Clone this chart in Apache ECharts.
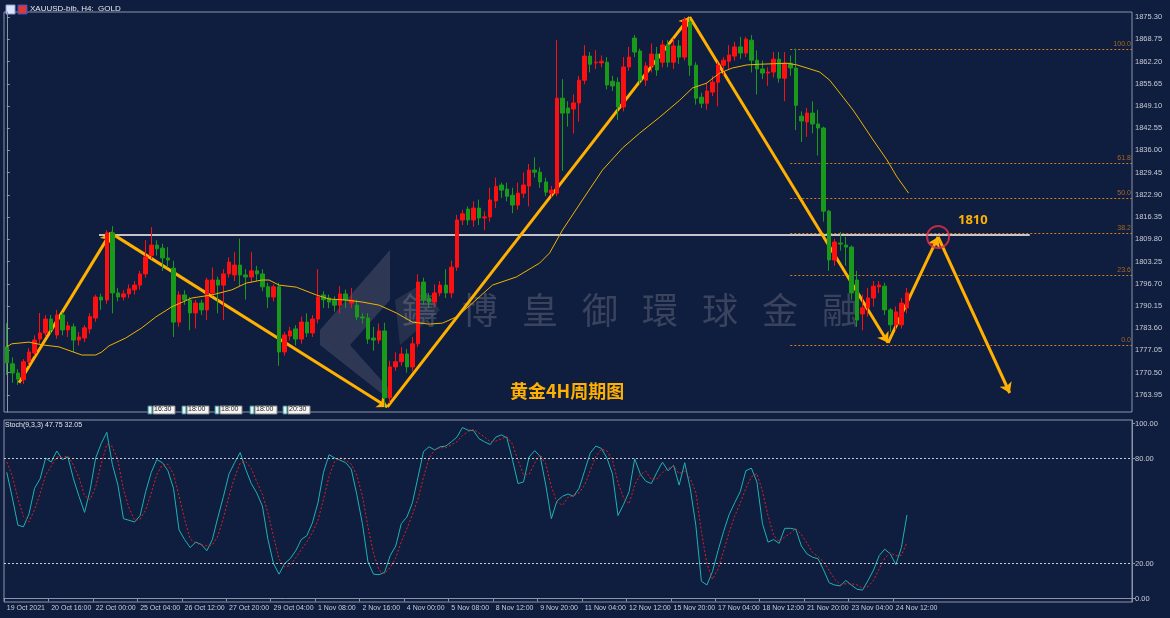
<!DOCTYPE html>
<html>
<head>
<meta charset="utf-8">
<script src="https://cdn.jsdelivr.net/npm/echarts@6/dist/echarts.min.js"></script>
<style>
html,body{margin:0;padding:0;background:#0f1d3e;}
#chart{width:1170px;height:618px;}
</style>
</head>
<body>
<div id="chart"></div>
<script>
// XAUUSD H4 candles: [open, close, low, high]
var candles = [
[1778.1,1773.4,1769.8,1785.1],[1773.1,1770.4,1767.5,1775.0],[1770.4,1768.6,1766.9,1771.5],[1768.4,1773.7,1767.2,1774.5],
[1773.7,1776.6,1772.5,1777.8],[1776.3,1780.1,1775.5,1781.5],[1780.4,1782.2,1779.0,1788.1],[1782.2,1786.3,1781.0,1787.5],
[1786.3,1783.1,1782.0,1787.5],[1781.6,1787.5,1780.5,1789.0],[1787.5,1783.1,1781.5,1788.3],[1783.1,1784.3,1781.0,1785.5],
[1784.0,1780.1,1776.5,1785.0],[1780.1,1781.0,1778.5,1782.5],[1780.7,1783.7,1779.5,1784.5],[1783.4,1787.0,1782.0,1788.0],
[1786.6,1792.8,1785.5,1793.5],[1792.8,1791.9,1789.0,1793.8],[1791.9,1811.7,1790.8,1812.5],[1811.7,1794.0,1788.0,1813.7],
[1794.0,1792.8,1791.5,1795.5],[1792.8,1793.7,1791.8,1794.8],[1793.7,1795.2,1792.5,1796.5],[1794.9,1796.3,1793.5,1797.5],
[1796.3,1799.6,1795.0,1800.5],[1799.6,1804.6,1798.5,1809.6],[1805.0,1808.1,1804.0,1813.4],[1808.1,1807.0,1805.0,1809.5],
[1807.2,1804.3,1800.5,1808.5],[1804.3,1803.7,1801.5,1807.5],[1801.3,1785.4,1781.0,1803.5],[1785.4,1793.4,1784.0,1794.5],
[1793.4,1791.9,1790.5,1794.8],[1791.9,1788.1,1783.0,1792.8],[1788.1,1791.0,1783.5,1792.0],[1791.0,1789.0,1787.5,1792.0],
[1789.0,1797.8,1786.0,1798.5],[1794.0,1797.8,1793.0,1801.5],[1797.8,1796.3,1788.0,1798.8],[1796.3,1799.6,1786.0,1801.0],
[1799.6,1803.1,1798.5,1804.5],[1799.3,1802.2,1797.5,1806.0],[1802.2,1799.3,1796.0,1810.0],[1799.3,1798.7,1792.0,1801.0],
[1798.7,1800.5,1797.0,1806.0],[1800.5,1799.6,1797.5,1802.0],[1799.6,1795.8,1794.5,1801.0],[1795.8,1792.8,1789.5,1797.0],
[1792.8,1795.8,1791.5,1796.5],[1795.8,1776.6,1772.5,1797.0],[1776.6,1781.6,1775.5,1782.5],[1781.3,1782.8,1780.0,1784.0],
[1783.4,1780.4,1778.5,1784.5],[1780.4,1785.4,1779.0,1787.0],[1785.4,1782.2,1781.0,1788.0],[1782.2,1786.3,1781.0,1787.5],
[1786.3,1792.8,1785.0,1801.0],[1793.4,1792.0,1789.5,1794.5],[1792.5,1791.3,1789.5,1793.5],[1791.9,1790.4,1788.5,1793.0],
[1790.4,1793.7,1788.0,1796.0],[1793.7,1791.9,1789.5,1795.0],[1791.0,1791.9,1789.5,1795.5],[1790.4,1786.9,1786.0,1792.0],
[1786.9,1786.6,1785.0,1788.0],[1786.6,1780.4,1779.0,1788.0],[1780.7,1780.1,1777.0,1784.0],[1780.1,1782.8,1779.0,1785.0],
[1782.8,1763.1,1760.4,1785.2],[1763.1,1772.2,1761.5,1774.0],[1772.2,1773.7,1771.0,1776.5],[1773.7,1776.0,1772.5,1778.0],
[1776.0,1772.2,1770.5,1777.5],[1772.2,1779.0,1771.0,1781.0],[1779.0,1797.2,1778.0,1799.5],[1797.2,1792.0,1790.5,1798.5],
[1792.5,1791.3,1789.5,1794.0],[1791.3,1794.0,1790.0,1796.5],[1794.0,1796.3,1793.0,1797.5],[1796.3,1794.0,1792.5,1801.0],
[1794.0,1801.6,1792.5,1803.5],[1801.6,1815.5,1800.5,1817.0],[1815.5,1817.3,1814.0,1818.5],[1818.7,1815.5,1814.0,1819.5],
[1815.5,1819.0,1813.5,1821.0],[1819.0,1816.1,1814.0,1821.5],[1816.1,1816.4,1812.5,1818.0],[1816.4,1821.4,1815.0,1825.0],
[1821.1,1825.4,1819.0,1828.0],[1825.8,1824.3,1822.0,1826.5],[1824.6,1822.5,1821.0,1826.5],[1822.8,1819.9,1817.5,1825.0],
[1819.9,1823.4,1818.5,1826.5],[1823.4,1825.8,1822.0,1829.5],[1825.5,1830.2,1819.5,1832.0],[1830.2,1829.6,1828.0,1834.0],
[1829.6,1826.7,1825.0,1831.0],[1826.7,1823.7,1822.5,1828.0],[1823.4,1824.3,1822.0,1825.5],[1823.4,1851.4,1822.5,1868.5],
[1851.4,1847.0,1830.0,1857.0],[1848.5,1847.0,1843.0,1850.5],[1848.2,1850.0,1841.0,1852.5],[1850.0,1856.7,1844.5,1858.0],
[1856.7,1863.8,1855.5,1867.0],[1863.8,1861.4,1859.0,1865.0],[1861.8,1862.0,1860.0,1865.5],[1861.8,1862.3,1860.5,1864.0],
[1862.0,1855.3,1854.0,1863.5],[1856.4,1855.0,1853.5,1858.0],[1856.1,1848.8,1845.0,1857.5],[1848.8,1860.6,1847.5,1863.5],
[1860.6,1863.5,1859.5,1866.5],[1869.1,1865.0,1863.5,1870.0],[1865.3,1856.7,1855.5,1866.0],[1856.7,1860.9,1855.0,1862.0],
[1860.9,1864.4,1859.0,1867.5],[1864.4,1859.7,1858.0,1866.5],[1862.0,1867.1,1860.5,1868.5],[1867.1,1862.0,1860.5,1868.5],
[1862.0,1866.8,1860.0,1869.0],[1866.8,1863.5,1861.5,1868.5],[1863.5,1874.4,1862.5,1875.3],[1873.8,1861.1,1858.0,1875.0],
[1861.1,1851.4,1849.5,1862.0],[1851.7,1849.9,1848.5,1853.0],[1849.9,1853.5,1848.0,1856.0],[1853.2,1856.1,1852.0,1858.0],
[1856.1,1861.1,1849.0,1862.0],[1861.1,1862.6,1858.0,1863.5],[1862.3,1864.1,1860.0,1867.0],[1863.8,1866.5,1862.5,1868.0],
[1866.5,1864.7,1863.0,1869.5],[1864.7,1868.8,1863.5,1869.5],[1868.5,1862.6,1859.0,1870.0],[1862.6,1860.0,1852.5,1865.5],
[1860.0,1858.8,1857.0,1862.5],[1858.8,1859.1,1855.0,1860.5],[1859.1,1862.9,1857.5,1865.0],[1862.9,1857.3,1856.0,1865.0],
[1857.3,1861.7,1850.5,1865.0],[1861.7,1860.3,1858.0,1864.0],[1860.3,1849.3,1842.0,1866.0],[1846.1,1844.7,1838.5,1847.5],
[1844.4,1847.0,1840.0,1848.5],[1847.0,1843.8,1841.0,1850.5],[1843.8,1842.6,1834.5,1848.0],[1842.6,1818.1,1815.0,1843.0],
[1818.1,1803.7,1800.5,1818.5],[1803.7,1809.0,1802.0,1810.0],[1808.7,1808.4,1806.5,1812.0],[1808.1,1807.5,1802.0,1810.5],
[1807.5,1794.0,1792.0,1808.0],[1797.8,1786.0,1784.0,1800.5],[1787.8,1789.6,1783.0,1793.5],[1789.6,1792.5,1787.0,1795.5],
[1792.5,1796.0,1790.0,1797.5],[1795.8,1796.3,1794.0,1797.5],[1796.0,1789.0,1787.5,1797.0],[1789.0,1784.6,1782.5,1789.5],
[1784.6,1788.4,1783.0,1790.0],[1784.6,1791.0,1783.5,1792.5],[1789.6,1794.0,1788.0,1795.5]
];

// Stochastic(9,3,3) main and signal lines
var stochK = [72.1,57.5,41.9,41.0,48.3,63.0,68.4,80.3,78.0,84.3,79.4,80.9,68.4,58.4,49.2,62.0,80.3,88.6,95.0,76.7,
64.8,45.6,44.7,43.7,47.4,61.1,72.1,79.4,77.6,73.0,63.0,39.2,33.7,29.1,32.2,30.9,27.3,33.7,46.5,58.4,
71.2,77.6,83.4,73.9,65.7,60.2,52.9,33.7,20.0,13.9,20.0,22.7,27.3,33.7,35.9,43.2,54.7,72.1,82.2,80.3,
79.0,77.6,73.9,59.3,42.8,20.9,13.9,13.6,15.0,24.5,30.0,42.8,46.5,54.7,69.3,84.0,86.7,84.9,86.7,87.1,
89.5,92.2,97.7,96.2,95.9,91.3,89.5,88.0,92.2,93.5,91.8,79.4,65.7,66.6,80.9,84.5,81.2,64.8,45.6,55.6,
58.4,59.7,58.4,63.0,73.0,83.1,87.1,85.8,80.3,71.2,47.4,53.8,61.1,79.8,71.2,67.0,65.7,72.1,77.9,73.0,
76.1,64.8,77.6,63.0,41.9,9.9,7.7,15.4,27.3,38.3,48.0,54.7,61.1,73.0,74.5,66.6,42.8,32.2,33.7,31.5,
40.1,40.1,39.5,30.0,25.5,23.6,22.7,16.3,9.0,7.7,7.2,10.3,7.7,5.3,4.8,10.3,16.3,24.5,28.2,25.5,
19.4,29.1,47.75];
var stochD = [78.0,70.0,57.2,46.8,43.7,50.8,59.9,70.6,75.6,80.9,80.6,81.5,76.2,69.2,58.7,56.5,63.8,77.0,88.0,86.8,
78.8,62.4,51.7,44.7,45.3,50.7,60.2,70.9,76.4,76.7,71.2,58.4,45.3,34.0,31.7,30.7,30.1,30.6,35.8,46.2,
58.7,69.1,77.4,78.3,74.3,66.6,59.6,48.9,35.5,22.5,18.0,18.9,23.3,27.9,32.3,37.6,44.6,56.7,69.7,78.2,
80.5,79.0,76.8,70.3,58.7,41.0,25.9,16.1,14.2,17.7,23.2,32.4,39.8,48.0,56.8,69.3,80.0,85.2,86.1,86.2,
87.8,89.6,93.1,95.4,96.6,94.5,92.2,89.6,89.9,91.2,92.5,88.2,79.0,70.6,71.1,77.3,82.2,76.8,63.9,55.3,
53.2,57.9,58.8,60.4,64.8,73.0,81.1,85.3,84.4,79.1,66.3,57.5,54.1,64.9,70.7,72.7,68.0,68.3,71.9,74.3,
75.7,71.3,72.8,68.5,60.8,38.3,19.8,11.0,16.8,27.0,37.9,47.0,54.6,62.9,69.5,71.4,61.3,47.2,36.2,32.5,
35.1,37.2,39.9,36.5,31.7,26.4,23.9,20.9,16.0,11.0,8.0,8.4,8.4,7.8,5.9,6.8,10.5,17.0,23.0,26.1,
24.4,24.7,32.05];

// moving average: [bar index, price]
var maLine = [[0,1778.1],[0.9,1779.0],[4.0,1779.5],[6.3,1778.7],[9.4,1778.1],[13.5,1775.7],[16.0,1775.7],[17.1,1776.6],
[18.4,1778.4],[21.4,1780.7],[24.3,1783.7],[26.8,1786.9],[29.7,1789.9],[33.3,1792.5],[36.9,1793.4],[40.5,1794.9],
[43.1,1796.9],[45.9,1797.8],[47.2,1797.8],[49.0,1796.3],[52.1,1795.7],[55.7,1793.4],[58.0,1792.2],[61.1,1791.9],
[64.0,1791.3],[67.0,1790.4],[70.1,1788.1],[73.0,1785.4],[76.0,1784.8],[78.4,1785.1],[80.9,1786.9],[83.2,1790.1],
[87.4,1796.3],[91.7,1798.7],[95.9,1802.8],[97.7,1805.8],[100.0,1812.5],[103.6,1821.4],[107.2,1830.2],[110.8,1836.7],
[113.9,1841.1],[117.5,1845.8],[121.1,1850.8],[123.4,1854.4],[125.9,1855.8],[128.3,1858.8],[130.6,1860.3],[133.2,1861.2],
[135.5,1861.4],[140.4,1861.7],[142.2,1861.2],[144.0,1860.3],[146.3,1859.1],[148.1,1856.7],[150.5,1851.7],[152.3,1847.9],
[153.5,1845.0],[155.9,1839.1],[158.4,1833.2],[160.2,1828.2],[162.3,1823.4]];

// hand drawn zigzag path: [bar index, price]
var zigzag = [[2.2,1767.5],[18.7,1811.7],[68.5,1760.4],[122.9,1875.3],[158.6,1779.3],[167.6,1810.5],[180.5,1764.5]];

var xLabels = ['19 Oct 2021','20 Oct 16:00','22 Oct 00:00','25 Oct 04:00','26 Oct 12:00','27 Oct 20:00','29 Oct 04:00',
'1 Nov 08:00','2 Nov 16:00','4 Nov 00:00','5 Nov 08:00','8 Nov 12:00','9 Nov 20:00','11 Nov 04:00','12 Nov 12:00',
'15 Nov 20:00','17 Nov 04:00','18 Nov 12:00','21 Nov 20:00','23 Nov 04:00','24 Nov 12:00'];
var priceTicks = [1875.30,1868.75,1862.20,1855.65,1849.10,1842.55,1836.00,1829.45,1822.90,1816.35,1809.80,
1803.25,1796.70,1790.15,1783.60,1777.05,1770.50,1763.95];
var stochTicks = [100,80,20,0];
var fibLevels = ['100.0','61.8','50.0','38.2','23.6','0.0'];
var fibPrices = [1865.9,1832.3,1822.0,1811.7,1799.3,1778.7];
var keyLevel = 1811.0;

var totalBars = 203;
var cats = [];
for (var i = 0; i < totalBars; i++) cats.push(String(i));
var tickIdx = xLabels.map(function (s, k) { return String(k * 8); });

var txt = '#c8ccd6';
var frame = '#8c95aa';
var gold = '#ffb000';
var axisFont = '"Liberation Sans", Arial, sans-serif';

var zigSegs = [];
for (var z = 0; z < zigzag.length - 1; z++) zigSegs.push({ coords: [zigzag[z], zigzag[z + 1]] });

var fibSegs = fibPrices.map(function (p) { return { coords: [[141, p], [202.5, p]] }; });
var fibTags = fibPrices.map(function (p, k) { return { value: [202.3, p], name: fibLevels[k] }; });

var myChart = echarts.init(document.getElementById('chart'));

var graphics = [
	{ type: 'text', left: 30, top: 5, style: { text: 'XAUUSD-bib, H4:  GOLD', fill: '#e6e8ee', font: '8px ' + axisFont } },
	{ type: 'rect', shape: { x: 6, y: 5, width: 9, height: 9 }, style: { fill: '#dde4ff', stroke: '#8899cc' } },
	{ type: 'rect', shape: { x: 18, y: 5, width: 9, height: 9 }, style: { fill: '#d83a3a', stroke: '#3355cc' } },
	{ type: 'text', left: 5, top: 422, style: { text: 'Stoch(9,3,3) 47.75 32.05', fill: '#e6e8ee', font: '7px ' + axisFont } },
	{ type: 'text', left: 510, top: 382, style: { text: '黄金4H周期图', fill: gold, font: 'bold 18px "Noto Sans CJK SC", sans-serif' } },
	{ type: 'text', left: 958, top: 214, style: { text: '1810', fill: gold, font: 'bold 13px "Noto Sans", sans-serif' } },
	{ type: 'polygon', shape: { points: [[320,330],[390,250],[390,300],[350,345],[390,390],[390,400],[320,345]] }, style: { fill: 'rgba(140,140,150,0.25)' } },
	{ type: 'polygon', shape: { points: [[395,300],[420,285],[440,310],[400,345]] }, style: { fill: 'rgba(140,140,150,0.18)' } }
];
var wm = ['鑄','博','皇','御','環','球','金','融'];
wm.forEach(function (ch, k) {
	graphics.push({ type: 'text', left: 402 + k * 60, top: 292, style: { text: ch, fill: 'rgba(150,150,160,0.32)', font: '36px "Noto Sans CJK TC", sans-serif' } });
});
var events = ['16:30','18:00','18:00','18:00','20:30'];
var evX = [148, 182, 215, 250, 283];
events.forEach(function (t, k) {
	graphics.push({ type: 'rect', shape: { x: evX[k], y: 406, width: 4, height: 8 }, style: { fill: '#e8f0f4', stroke: '#2a8a8a' } });
	graphics.push({ type: 'rect', shape: { x: evX[k] + 5, y: 406, width: 22, height: 8 }, style: { fill: '#f4f4f4', stroke: '#888' } });
	graphics.push({ type: 'text', left: evX[k] + 6, top: 406, style: { text: t, fill: '#222', font: '7px sans-serif' } });
});

function isTick(idx) { return idx % 8 === 0 && idx / 8 < xLabels.length; }

myChart.setOption({
	backgroundColor: '#0f1d3e',
	animation: false,
	graphic: graphics,
	grid: [
		{ left: 4, right: 38, top: 12, height: 400, show: true, borderColor: frame, borderWidth: 1 },
		{ left: 4, right: 38, top: 420, height: 182, show: true, borderColor: frame, borderWidth: 1 }
	],
	xAxis: [
		{ type: 'category', gridIndex: 0, data: cats, boundaryGap: true, axisLine: { show: false }, axisTick: { show: false }, axisLabel: { show: false }, splitLine: { show: false } },
		{ type: 'value', gridIndex: 0, min: -0.5, max: totalBars - 0.5, show: false },
		{ type: 'category', gridIndex: 1, data: cats, boundaryGap: true,
		  axisLine: { lineStyle: { color: frame } },
		  axisTick: { show: true, interval: isTick, lineStyle: { color: frame }, length: 3 },
		  axisLabel: { interval: isTick, hideOverlap: false, showMinLabel: true, color: txt, fontSize: 7, fontFamily: axisFont, align: 'left', margin: 3,
		    formatter: function (v) { var n = +v; return n % 8 === 0 ? (xLabels[n / 8] || '') : ''; } } }
	],
	yAxis: [
		{ type: 'value', gridIndex: 0, position: 'right', min: 1758.9, max: 1876.8, splitLine: { show: false },
		  axisLine: { show: true, lineStyle: { color: frame } }, axisTick: { show: true, customValues: priceTicks, length: 3, lineStyle: { color: frame } },
		  axisLabel: { customValues: priceTicks, color: txt, fontSize: 7.5, fontFamily: axisFont, margin: 3, formatter: function (v) { return v.toFixed(2); } } },
		{ type: 'value', gridIndex: 1, position: 'right', min: -2, max: 102, splitLine: { show: false },
		  axisLine: { show: true, lineStyle: { color: frame } }, axisTick: { show: true, customValues: stochTicks, length: 3, lineStyle: { color: frame } },
		  axisLabel: { customValues: stochTicks, color: txt, fontSize: 7.5, fontFamily: axisFont, margin: 3, formatter: function (v) { return v.toFixed(2); } } }
	],
	series: [
		{ type: 'candlestick', xAxisIndex: 0, yAxisIndex: 0, data: candles, barWidth: 4,
		  itemStyle: { color: '#ff1010', color0: '#1a9a1a', borderColor: '#ff1010', borderColor0: '#1a9a1a', borderWidth: 1 } },
		{ type: 'line', xAxisIndex: 1, yAxisIndex: 0, data: maLine, showSymbol: false, smooth: false,
		  lineStyle: { color: '#f0b400', width: 1 } },
		{ type: 'lines', coordinateSystem: 'cartesian2d', xAxisIndex: 1, yAxisIndex: 0,
		  data: [{ coords: [[16.6, keyLevel], [184.1, keyLevel]] }],
		  lineStyle: { color: '#c4c4c8', width: 2, opacity: 1 }, symbol: 'none' },
		{ type: 'lines', coordinateSystem: 'cartesian2d', xAxisIndex: 1, yAxisIndex: 0, data: fibSegs,
		  lineStyle: { color: '#d07a1a', width: 1, type: [2, 2], opacity: 1 }, symbol: 'none' },
		{ type: 'scatter', xAxisIndex: 1, yAxisIndex: 0, data: fibTags, symbolSize: 0,
		  label: { show: true, position: 'left', distance: 0, offset: [0, -5], color: '#d07a1a', fontSize: 7, formatter: function (p) { return p.name; } } },
		{ type: 'lines', coordinateSystem: 'cartesian2d', xAxisIndex: 1, yAxisIndex: 0, data: zigSegs,
		  lineStyle: { color: gold, width: 3, opacity: 1 }, symbol: ['none', 'arrow'], symbolSize: 10 },
		{ type: 'scatter', xAxisIndex: 1, yAxisIndex: 0, data: [[167.6, 1810.5]], symbol: 'circle', symbolSize: 22,
		  itemStyle: { color: 'transparent', borderColor: '#e8304a', borderWidth: 2 } },
		{ type: 'line', xAxisIndex: 2, yAxisIndex: 1, data: stochK, showSymbol: false,
		  lineStyle: { color: '#1fb2b2', width: 1 },
		  markLine: { silent: true, symbol: 'none', label: { show: false }, lineStyle: { color: '#c8ccd6', type: [2, 2], width: 1 },
		    data: [{ yAxis: 80 }, { yAxis: 20 }] } },
		{ type: 'line', xAxisIndex: 2, yAxisIndex: 1, data: stochD, showSymbol: false,
		  lineStyle: { color: '#e02020', width: 1, type: [2, 2] } }
	]
});
</script>
</body>
</html>
